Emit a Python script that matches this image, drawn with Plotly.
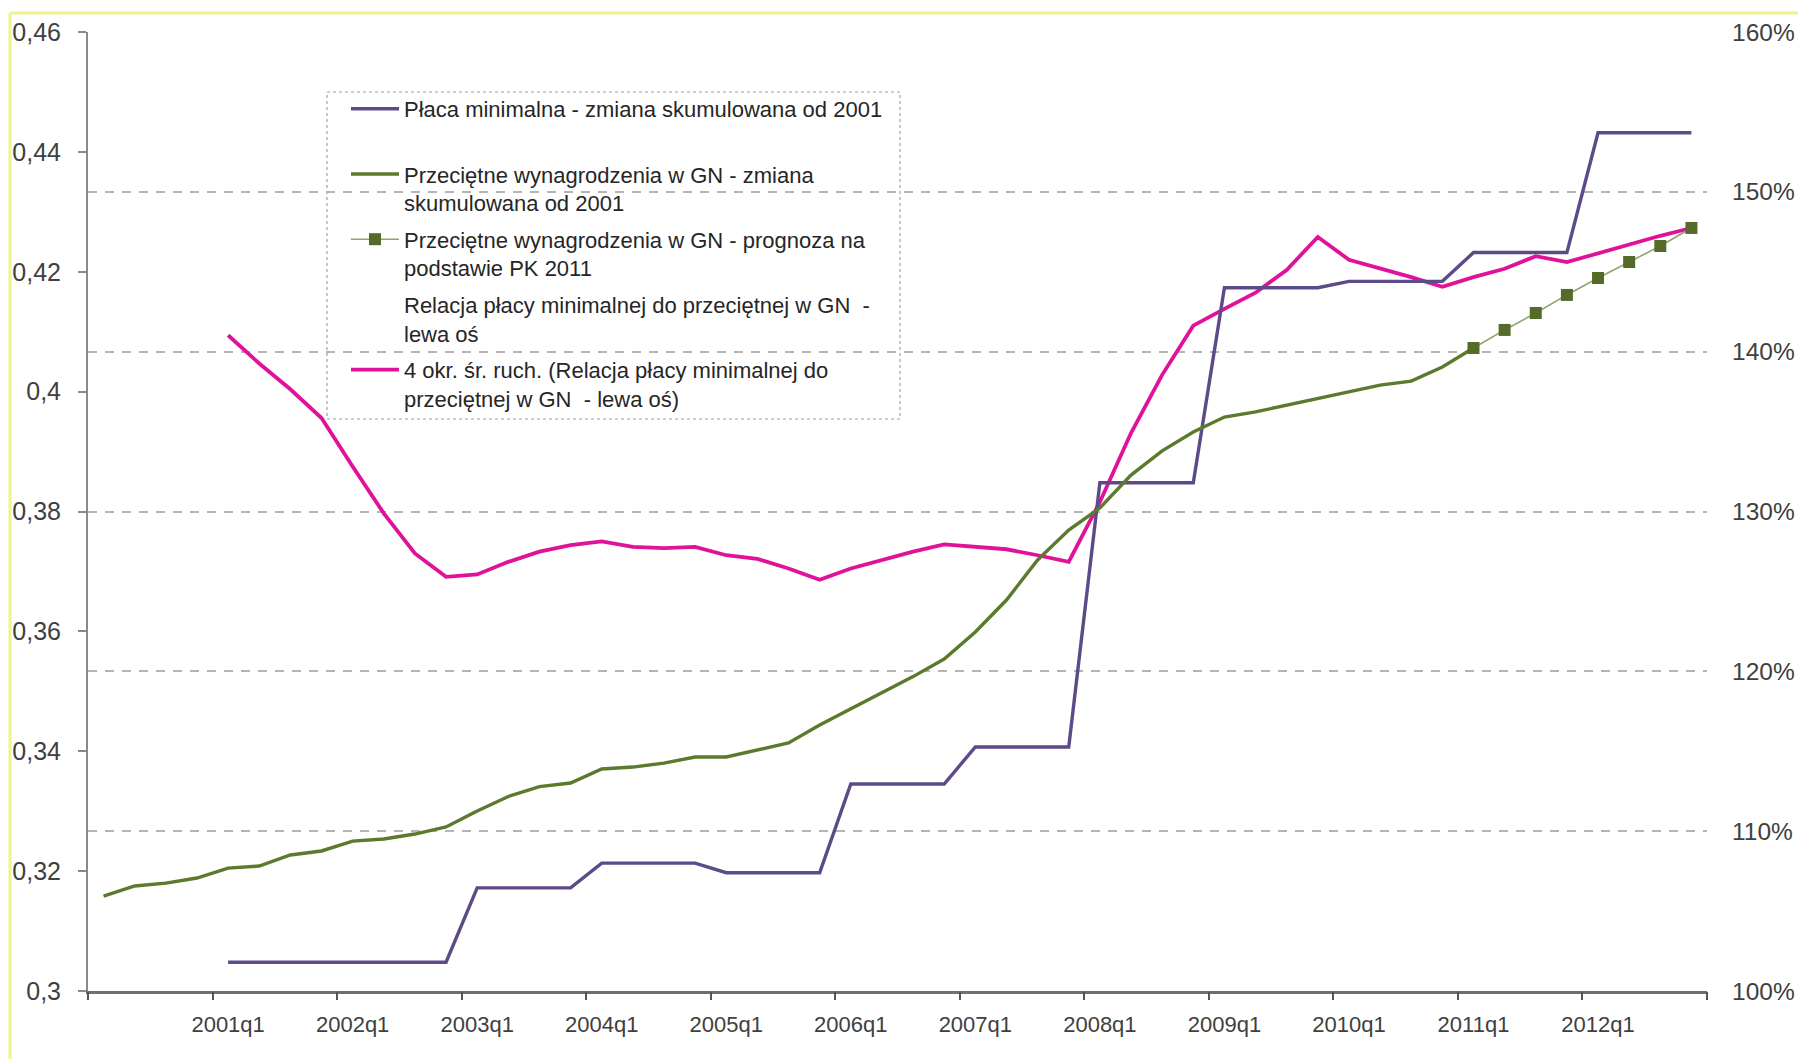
import plotly.graph_objects as go

# quarters 2000q1 .. 2012q4
quarters = [f"{y}q{q}" for y in range(2000, 2013) for q in range(1, 5)]
label_quarters = [f"{y}q1" for y in range(2001, 2013)]

# minimum wage, cumulative change (right axis, %)
placa_min = [None] * 4 + [101.8] * 8 + [106.45] * 4 + [108.0] * 4 + [107.4] * 4 + \
    [112.95] * 4 + [115.27] * 4 + [131.8] * 4 + [144.0] * 4 + [144.4] * 4 + \
    [146.2] * 4 + [153.7] * 4

# average wage, cumulative change (right axis, %)
wynagr = [105.94, 106.57, 106.75, 107.07, 107.69, 107.82, 108.51, 108.76,
          109.38, 109.51, 109.82, 110.26, 111.26, 112.17, 112.79, 113.01,
          113.89, 114.01, 114.26, 114.64, 114.64, 115.08, 115.52, 116.64,
          117.64, 118.64, 119.67, 120.77, 122.46, 124.46, 126.97, 128.84,
          130.22, 132.28, 133.79, 134.97, 135.91, 136.23, 136.66, 137.10,
          137.48, 137.91, 138.16, 139.04, 140.23]
wynagr = wynagr + [None] * (52 - len(wynagr))

# forecast based on PK 2011 (right axis, %)
prognoza = [None] * 44 + [140.23, 141.36, 142.42, 143.55, 144.61, 145.61,
                          146.61, 147.74]

# 4-quarter moving average of min/avg wage ratio (left axis)
sr_ruch = [None] * 4 + [0.4094, 0.4047, 0.4004, 0.3956, 0.3875, 0.3797, 0.3730,
                        0.3691, 0.3695, 0.3716, 0.3733, 0.3744, 0.3750, 0.3741,
                        0.3739, 0.3741, 0.3727, 0.3721, 0.3705, 0.3686, 0.3705,
                        0.3719, 0.3733, 0.3745, 0.3741, 0.3737, 0.3727, 0.3716,
                        0.3816, 0.3931, 0.4028, 0.4110, 0.4138, 0.4165, 0.4203,
                        0.4258, 0.4220, 0.4206, 0.4191, 0.4175, 0.4191, 0.4205,
                        0.4226, 0.4216, 0.4231, 0.4245, 0.4260, 0.4273]

# x tick marks sit on category boundaries every 4 quarters
tick_bounds = [i - 0.5 for i in range(0, 53, 4)]

FONT = "Liberation Sans, Arial, sans-serif"
W, H = 1798, 1059
L, R, T, B = 88, 91, 32, 68
pw, ph = W - L - R, H - T - B


def px(x):
    return (x - L) / pw


def py(y):
    return (H - B - y) / ph


data = [
    go.Scatter(x=quarters, y=placa_min, yaxis='y2', mode='lines', legendgroup='a',
               name='Płaca minimalna - zmiana skumulowana od 2001<br> ',
               line=dict(color='#5d4a88', width=3.4)),
    go.Scatter(x=quarters, y=wynagr, yaxis='y2', mode='lines', legendgroup='b',
               name='Przeciętne wynagrodzenia w GN - zmiana<br>skumulowana od 2001',
               line=dict(color='#5b7a2b', width=3.4)),
    go.Scatter(x=quarters, y=prognoza, yaxis='y2', mode='lines+markers', legendgroup='c',
               name='Przeciętne wynagrodzenia w GN - prognoza na<br>podstawie PK 2011',
               line=dict(color='#8fa56b', width=1.6),
               marker=dict(symbol='square', size=12, color='#556b2a')),
    go.Scatter(x=quarters, y=[None] * 52, mode='lines', legendgroup='d',
               name='Relacja płacy minimalnej do przeciętnej w GN  -<br>lewa oś',
               line=dict(color='rgba(0,0,0,0)', width=0)),
    go.Scatter(x=quarters, y=sr_ruch, mode='lines', legendgroup='e',
               name='4 okr. śr. ruch. (Relacja płacy minimalnej do<br>przeciętnej w GN  - lewa oś)',
               line=dict(color='#e0129a', width=3.8)),
    go.Scatter(x=[], y=[], xaxis='x2', showlegend=False, hoverinfo='skip'),
]

layout = go.Layout(
    width=W, height=H,
    margin=dict(l=L, r=R, t=T, b=B, autoexpand=False),
    paper_bgcolor='white', plot_bgcolor='white',
    separators=', ',
    font=dict(family=FONT, size=22, color='#404040'),
    showlegend=True,
    xaxis=dict(type='category', categoryorder='array', categoryarray=quarters,
               range=[-0.5, 51.5], automargin=False,
               tickmode='array', tickvals=label_quarters, ticktext=label_quarters,
               ticks='', showgrid=False, zeroline=False,
               showline=True, linecolor='#707070', linewidth=2.5,
               ticklabelstandoff=12, tickfont=dict(size=22, color='#404040')),
    xaxis2=dict(overlaying='x', anchor='y', side='bottom', range=[-0.5, 51.5],
                automargin=False,
                tickmode='array', tickvals=tick_bounds, ticks='outside',
                ticklen=8, tickwidth=2, tickcolor='#555555',
                showticklabels=False, showgrid=False, zeroline=False, showline=False),
    yaxis=dict(range=[0.3, 0.46], dtick=0.02, tick0=0.3, showgrid=False,
               automargin=False,
               zeroline=False, showline=True, linecolor='#8a8a8a', linewidth=2,
               ticks='outside', ticklen=8, tickwidth=2, tickcolor='#8a8a8a',
               ticklabelstandoff=12, tickfont=dict(size=25, color='#404040')),
    yaxis2=dict(overlaying='y', side='right', range=[100, 160], dtick=10, tick0=100,
                automargin=False,
                ticksuffix='%', showgrid=True, gridcolor='#b5b5b5', gridwidth=2,
                griddash='9px,8px', zeroline=False, showline=False, ticks='',
                ticklabelstandoff=24, tickfont=dict(size=24.5, color='#404040')),
    legend=dict(x=px(346), y=py(88), xanchor='left', yanchor='top',
                bgcolor='rgba(0,0,0,0)', borderwidth=0, valign='top',
                font=dict(family=FONT, size=22, color='#262626'),
                itemwidth=48, tracegroupgap=5),
    shapes=[
        # legend frame (dotted), white fill hides gridlines
        dict(type='rect', xref='paper', yref='paper', layer='between',
             x0=px(327), x1=px(900), y0=py(419), y1=py(92),
             line=dict(color='#a0a0a0', width=1.2, dash='dot'),
             fillcolor='white'),
        # pale yellow frame of the original picture
        dict(type='line', xref='paper', yref='paper', layer='above',
             x0=px(10), x1=px(W + 5), y0=py(13), y1=py(13),
             line=dict(color='#eef48c', width=3)),
        dict(type='line', xref='paper', yref='paper', layer='above',
             x0=px(10), x1=px(10), y0=py(13), y1=py(H + 5),
             line=dict(color='#eef48c', width=3)),
    ],
)

fig = go.Figure(data=data, layout=layout)
# drop the default 8px page margin so the figure sits at the window corner
fig.write_html("out.html", config={'displayModeBar': False},
               post_script="document.body.style.margin='0';")
